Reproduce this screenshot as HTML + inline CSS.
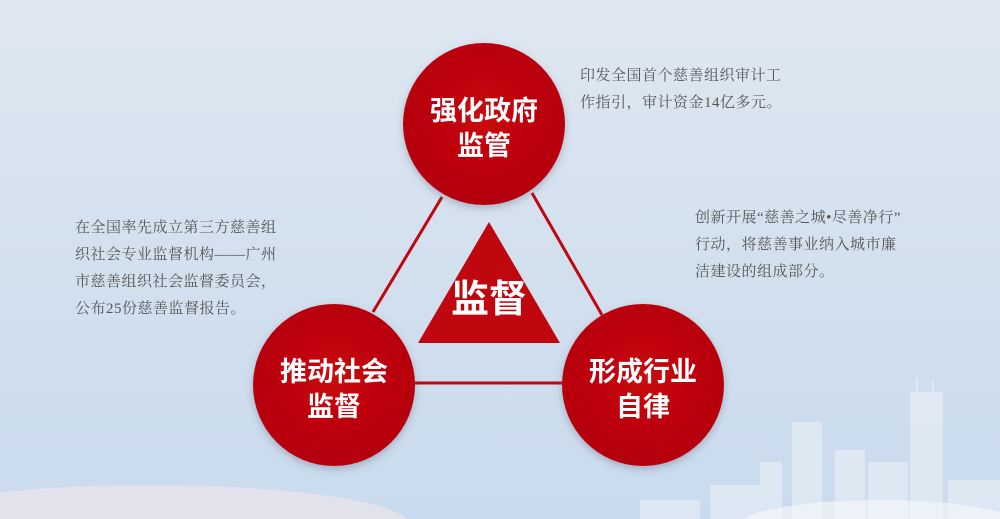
<!DOCTYPE html>
<html><head><meta charset="utf-8"><style>
html,body{margin:0;padding:0;width:1000px;height:519px;overflow:hidden}
body{position:relative;background:linear-gradient(180deg,#dfe8f2 0%,#d3e0ee 50%,#c9dbee 100%);font-family:"Liberation Sans","Noto Sans CJK SC",sans-serif}
.t{position:absolute;color:#555;font-size:15px;line-height:27px;font-family:"Liberation Serif","Noto Serif CJK SC",serif;letter-spacing:0.5px;white-space:nowrap}
svg{position:absolute;left:0;top:0;display:block}
</style></head><body>
<svg width="1000" height="519" viewBox="0 0 1000 519" overflow="hidden">
<defs>
<radialGradient id="c" cx="50%" cy="45%" r="55%"><stop offset="0" stop-color="#c8070f"/><stop offset="1" stop-color="#b5050c"/></radialGradient>
<filter id="s"><feDropShadow dx="0" dy="3" stdDeviation="4" flood-color="#556" flood-opacity="0.35"/></filter>
</defs>
<ellipse cx="150" cy="525" rx="260" ry="40" fill="#f3e6ec" opacity="0.6"/>
<g fill="#eef2f8" opacity="0.55">
<rect x="910" y="392" width="33" height="127"/><rect x="916" y="378" width="2" height="15"/><rect x="932" y="380" width="2" height="13"/>
<rect x="792" y="422" width="30" height="97"/><rect x="835" y="450" width="30" height="69"/><rect x="760" y="462" width="22" height="57"/>
<rect x="868" y="462" width="40" height="57"/><rect x="710" y="485" width="50" height="34"/><rect x="948" y="480" width="52" height="39"/>
<rect x="640" y="500" width="60" height="19"/>
</g>
<ellipse cx="880" cy="525" rx="140" ry="25" fill="#f3f5f9" opacity="0.7"/>
<g stroke="#c0060e" stroke-width="3" fill="none">
<line x1="442" y1="197" x2="373" y2="312"/>
<line x1="532" y1="193" x2="602" y2="315"/>
<line x1="415" y1="383" x2="563" y2="383"/>
</g>
<polygon points="489,222 418,343 560,343" fill="#c0060e"/>
<g filter="url(#s)" fill="url(#c)">
<circle cx="484" cy="124" r="81"/>
<circle cx="334" cy="385" r="81"/>
<circle cx="643" cy="385" r="81"/>
</g>
<g fill="#fff" font-family="'Noto Sans CJK SC',sans-serif" font-weight="bold" text-anchor="middle">
<text x="484" y="120" font-size="27">强化政府</text>
<text x="484" y="155" font-size="27">监管</text>
<text x="334" y="381" font-size="27">推动社会</text>
<text x="334" y="416" font-size="27">监督</text>
<text x="643" y="381" font-size="27">形成行业</text>
<text x="643" y="416" font-size="27">自律</text>
<text x="489" y="312" font-size="38">监督</text>
</g>
</svg>
<div class="t" style="left:580px;top:63px">印发全国首个慈善组织审计工<br>作指引，审计资金14亿多元。</div>
<div class="t" style="left:75px;top:215px">在全国率先成立第三方慈善组<br>织社会专业监督机构——广州<br>市慈善组织社会监督委员会，<br>公布25份慈善监督报告。</div>
<div class="t" style="left:695px;top:205px">创新开展“慈善之城•尽善净行”<br>行动，将慈善事业纳入城市廉<br>洁建设的组成部分。</div>
</body></html>
